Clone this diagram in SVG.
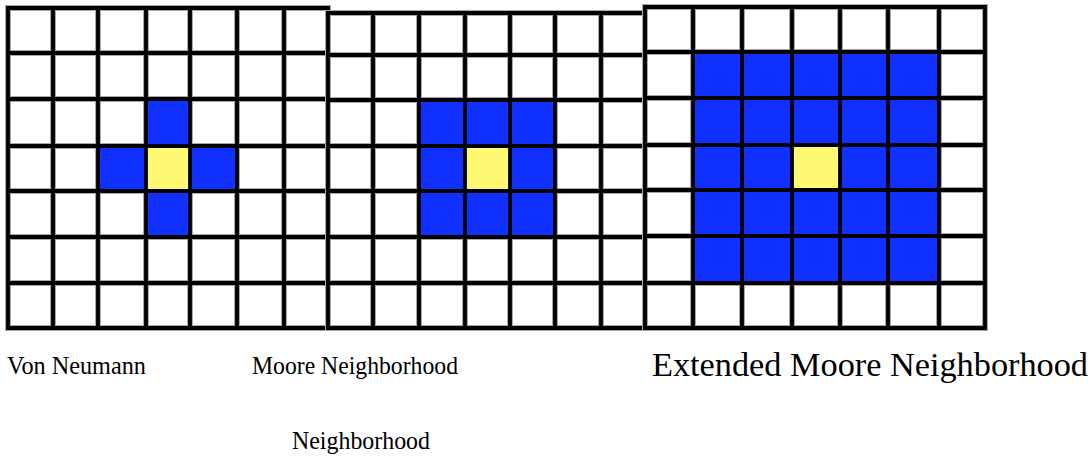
<svg xmlns="http://www.w3.org/2000/svg" width="1091" height="474" viewBox="0 0 1091 474">
<style>
.bg{fill:#ffffff}
.blue{fill:#1030ff}
.yel{fill:#fff873}
.fringe{fill:none;stroke:#a8a8a8;stroke-width:6;stroke-linecap:square}
.line{fill:none;stroke:#000000;stroke-width:3.8;stroke-linecap:square}
.lbl{font-family:"Liberation Serif","Times New Roman",serif;font-size:26px;fill:#000000}
.lbl-wide{font-size:33px}
</style>
<rect x="0" y="0" width="1091" height="474" fill="#ffffff"/>
<g id="von-neumann-grid">
<rect class="bg" x="8" y="8" width="320" height="320"/>
<path class="fringe" d="M8 8V328M53 8V328M98 8V328M146 8V328M190 8V328M237 8V328M284 8V328M328 8V328M8 8H328M8 53H328M8 99H328M8 146H328M8 191H328M8 237H328M8 283H328M8 328H328"/>
<rect class="blue" x="146" y="99" width="44" height="47"/>
<rect class="blue" x="98" y="146" width="48" height="45"/>
<rect class="blue" x="190" y="146" width="47" height="45"/>
<rect class="blue" x="146" y="191" width="44" height="46"/>
<rect class="yel" x="146" y="146" width="44" height="45"/>
<path class="line" d="M8 8V328M53 8V328M98 8V328M146 8V328M190 8V328M237 8V328M284 8V328M328 8V328M8 8H328M8 53H328M8 99H328M8 146H328M8 191H328M8 237H328M8 283H328M8 328H328"/>
</g>
<g id="moore-grid">
<rect class="bg" x="328" y="13" width="317" height="315"/>
<path class="fringe" d="M328 13V328M373 13V328M419 13V328M465 13V328M510 13V328M555 13V328M601 13V328M645 13V328M328 13H645M328 55H645M328 100H645M328 146H645M328 191H645M328 237H645M328 283H645M328 328H645"/>
<rect class="blue" x="419" y="100" width="136" height="137"/>
<rect class="yel" x="465" y="146" width="45" height="45"/>
<path class="line" d="M328 13V328M373 13V328M419 13V328M465 13V328M510 13V328M555 13V328M601 13V328M645 13V328M328 13H645M328 55H645M328 100H645M328 146H645M328 191H645M328 237H645M328 283H645M328 328H645"/>
</g>
<g id="extended-moore-grid">
<rect class="bg" x="645" y="7" width="340" height="321"/>
<path class="fringe" d="M645 7V328M693 7V328M742 7V328M792 7V328M840 7V328M888 7V328M939 7V328M985 7V328M645 7H985M645 52H985M645 98H985M645 145H985M645 190H985M645 236H985M645 283H985M645 328H985"/>
<rect class="blue" x="693" y="52" width="246" height="231"/>
<rect class="yel" x="792" y="145" width="48" height="45"/>
<path class="line" d="M645 7V328M693 7V328M742 7V328M792 7V328M840 7V328M888 7V328M939 7V328M985 7V328M645 7H985M645 52H985M645 98H985M645 145H985M645 190H985M645 236H985M645 283H985M645 328H985"/>
</g>
<g id="labels">
<text class="lbl" x="7" y="374" textLength="139" lengthAdjust="spacingAndGlyphs">Von Neumann</text>
<text class="lbl" x="252" y="374" textLength="206" lengthAdjust="spacingAndGlyphs">Moore Neighborhood</text>
<text class="lbl" x="292" y="449" textLength="138" lengthAdjust="spacingAndGlyphs">Neighborhood</text>
<text class="lbl lbl-wide" x="652" y="376" textLength="436" lengthAdjust="spacingAndGlyphs">Extended Moore Neighborhood</text>
</g>
</svg>
